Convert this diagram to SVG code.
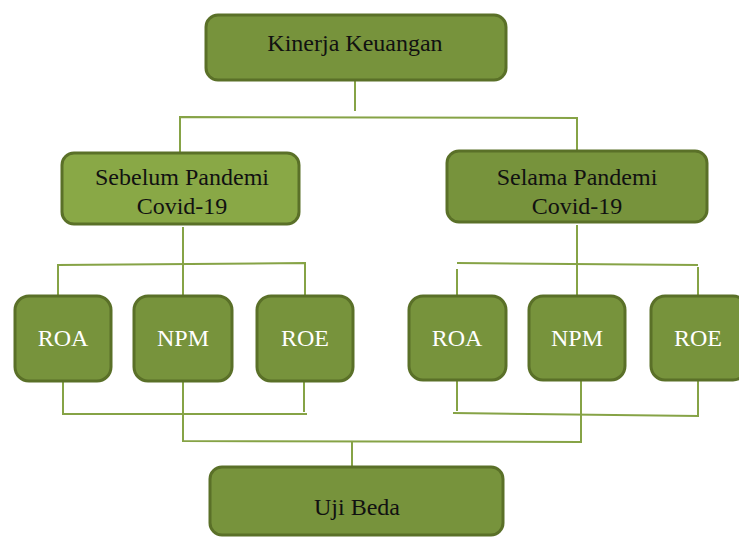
<svg xmlns="http://www.w3.org/2000/svg" width="739" height="537" viewBox="0 0 739 537">
<style>
.box{fill:#77933c;stroke:#5a7028;stroke-width:3}
.light{fill:#89a846}
.t{font-family:"Liberation Serif","Times New Roman",serif;font-size:24px;text-anchor:middle;fill:#111}
.w{fill:#ffffff}
.c{fill:none;stroke:#86a346;stroke-width:2}
</style>
<rect width="739" height="537" fill="#ffffff"/>
<g id="connectors">
<polyline class="c" points="355,81 355,111"/>
<polyline class="c" points="180,152 180,117 577,118 577,151"/>
<polyline class="c" points="183,227 183,295"/>
<polyline class="c" points="58,295 58,265 305,263 305,295"/>
<polyline class="c" points="577,225 577,295"/>
<polyline class="c" points="457,295 457,269"/>
<polyline class="c" points="457,263 698,265"/>
<polyline class="c" points="698,267 698,295"/>
<polyline class="c" points="63,381 63,414 307,414"/>
<polyline class="c" points="304,381 304,412"/>
<polyline class="c" points="457,380 457,411"/>
<polyline class="c" points="453,413 698,416 698,380"/>
<polyline class="c" points="183,381 183,441 581,442 581,380"/>
<polyline class="c" points="352,441 352,467"/>
</g>
<g id="kinerja">
<rect class="box" x="206" y="15" width="300" height="65" rx="12"/>
<text class="t" x="355" y="51">Kinerja Keuangan</text>
</g>
<g id="sebelum">
<rect class="box light" x="62" y="153" width="237" height="71" rx="12"/>
<text class="t" x="182" y="185">Sebelum Pandemi</text>
<text class="t" x="182" y="214">Covid-19</text>
</g>
<g id="selama">
<rect class="box" x="447" y="151" width="260" height="71" rx="12"/>
<text class="t" x="577" y="185">Selama Pandemi</text>
<text class="t" x="577" y="214">Covid-19</text>
</g>
<g id="roa1">
<rect class="box" x="15" y="296" width="96" height="85" rx="14"/>
<text class="t w" x="63" y="346">ROA</text>
</g>
<g id="npm1">
<rect class="box" x="134" y="296" width="98" height="85" rx="14"/>
<text class="t w" x="183" y="346">NPM</text>
</g>
<g id="roe1">
<rect class="box" x="257" y="296" width="96" height="85" rx="14"/>
<text class="t w" x="305" y="346">ROE</text>
</g>
<g id="roa2">
<rect class="box" x="409" y="296" width="97" height="84" rx="14"/>
<text class="t w" x="457" y="346">ROA</text>
</g>
<g id="npm2">
<rect class="box" x="529" y="296" width="96" height="84" rx="14"/>
<text class="t w" x="577" y="346">NPM</text>
</g>
<g id="roe2">
<rect class="box" x="651" y="296" width="96" height="84" rx="14"/>
<text class="t w" x="698" y="346">ROE</text>
</g>
<g id="uji">
<rect class="box" x="210" y="467" width="293" height="68" rx="12"/>
<text class="t" x="357" y="515">Uji Beda</text>
</g>
</svg>
